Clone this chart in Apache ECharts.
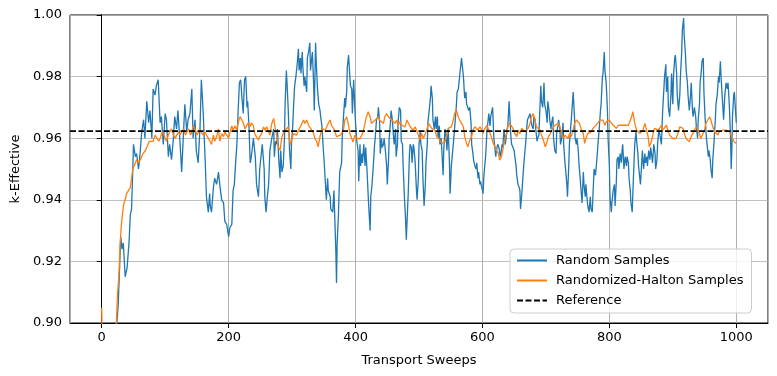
<!DOCTYPE html>
<html>
<head>
<meta charset="utf-8">
<script src="https://cdn.jsdelivr.net/npm/echarts@6.0.0/dist/echarts.min.js"></script>
<style>
  html, body { margin: 0; padding: 0; background: #fff; }
  #main { width: 777px; height: 376px; }
</style>
</head>
<body>
<div id="main"></div>
<script>
// tick labels
var sweepTicks = [0, 200, 400, 600, 800, 1000];
var refK = 0.9623;

// random samples, [sweep, k], in pieces
var randomSeg1 = [[22,0.895],[26,0.906],[30,0.928],[32,0.924],[34,0.926],[37,0.915],[40,0.918],[43,0.926],[45,0.935],[47,0.937],[49,0.950],[50,0.958],[53,0.954],[55,0.955],[58,0.950],[60,0.954],[63,0.962],[66,0.966],[68,0.960],[71,0.972],[74,0.965],[76,0.969],[79,0.960],[81,0.976],[84,0.974],[86,0.977],[89,0.979],[92,0.965],[94,0.967],[97,0.958],[100,0.968],[102,0.966],[105,0.954],[107,0.958],[110,0.953],[113,0.960],[115,0.967],[118,0.963],[120,0.969],[123,0.960],[126,0.949],[128,0.958],[131,0.971],[134,0.962],[136,0.966],[139,0.968],[142,0.976],[144,0.960],[147,0.966],[149,0.956],[152,0.952],[155,0.964],[157,0.979],[160,0.968],[163,0.953],[165,0.941],[168,0.936],[170,0.942]];
var randomSeg2 = [[171,0.938],[173,0.936],[176,0.944],[178,0.947],[181,0.945],[184,0.949],[186,0.945],[189,0.940],[192,0.939],[194,0.933],[197,0.932],[200,0.928],[202,0.931],[205,0.932],[207,0.943],[209,0.945],[211,0.952],[213,0.958],[215,0.969],[217,0.978],[219,0.979],[221,0.973],[223,0.968],[225,0.979],[227,0.980],[229,0.970],[230,0.972],[232,0.964],[234,0.952],[235,0.953],[237,0.956],[239,0.960],[242,0.954],[244,0.945],[247,0.941],[249,0.950],[252,0.956],[253,0.958],[256,0.950],[257,0.941],[259,0.936],[261,0.941],[263,0.945],[265,0.956],[268,0.960],[271,0.963],[272,0.954],[274,0.959],[276,0.958],[277,0.963],[279,0.953],[281,0.947],[282,0.956],[284,0.949],[286,0.951],[288,0.960],[289,0.971],[291,0.982],[292,0.978],[294,0.969],[296,0.956],[298,0.950],[299,0.958],[301,0.964],[302,0.969],[304,0.977],[306,0.980],[308,0.984],[310,0.989],[311,0.982],[313,0.986],[314,0.981],[316,0.988],[317,0.983],[319,0.977],[320,0.980],[323,0.975],[324,0.986],[326,0.988],[328,0.991],[329,0.982],[331,0.986],[332,0.988],[334,0.977],[335,0.969],[337,0.991],[338,0.985],[340,0.976],[342,0.971],[344,0.969],[345,0.967],[347,0.964],[349,0.957],[351,0.951],[352,0.947],[354,0.940],[356,0.947],[357,0.943],[360,0.941],[361,0.937]];
var randomSeg3 = [[364,0.936],[366,0.943],[367,0.936],[369,0.923],[370,0.913],[371,0.926],[373,0.935],[375,0.949],[376,0.950],[378,0.952],[379,0.960],[381,0.967],[383,0.973],[384,0.970],[386,0.975],[387,0.983],[389,0.987],[391,0.980],[392,0.977],[394,0.976],[395,0.968],[397,0.979],[399,0.969],[400,0.965],[402,0.959],[404,0.956],[405,0.946],[407,0.958],[408,0.951],[410,0.955],[411,0.952],[413,0.958],[415,0.951],[416,0.957],[418,0.950],[420,0.941],[421,0.937],[423,0.930],[424,0.941],[426,0.945],[428,0.951],[430,0.958],[431,0.960],[433,0.966],[435,0.967],[436,0.970],[438,0.965],[439,0.955],[441,0.960],[442,0.957],[444,0.958],[445,0.960],[447,0.956],[449,0.951],[450,0.945],[452,0.953],[453,0.960],[455,0.965],[456,0.969],[458,0.966],[460,0.960],[461,0.958],[463,0.963],[464,0.954],[466,0.958],[467,0.965],[469,0.970],[471,0.969],[472,0.959],[474,0.958],[475,0.951],[477,0.941],[479,0.933],[480,0.927],[482,0.937],[483,0.942],[485,0.955],[486,0.958],[488,0.957],[489,0.952],[491,0.958],[492,0.957],[494,0.952],[496,0.943],[497,0.940],[499,0.947],[500,0.958],[502,0.962],[503,0.958],[505,0.956],[506,0.948],[508,0.938],[510,0.945],[511,0.952],[513,0.958],[514,0.965],[516,0.969],[518,0.973],[519,0.977],[521,0.973],[522,0.966],[524,0.963],[526,0.967],[527,0.963],[529,0.967],[530,0.960],[532,0.964],[533,0.958],[535,0.960],[536,0.956],[538,0.948],[539,0.956],[541,0.963],[543,0.960],[544,0.956],[546,0.963],[548,0.952],[549,0.942]];
var randomSeg4 = [[551,0.951],[554,0.958],[556,0.963],[558,0.968],[559,0.971],[560,0.975],[562,0.976],[564,0.980],[566,0.984],[567,0.986],[569,0.982],[570,0.980],[572,0.973],[574,0.975],[575,0.971],[577,0.970],[578,0.969],[580,0.970],[582,0.965],[583,0.958],[585,0.955],[586,0.953],[588,0.951],[590,0.950],[591,0.952],[593,0.947],[594,0.949],[596,0.945],[597,0.946],[599,0.944],[601,0.942],[602,0.947],[604,0.952],[605,0.954],[607,0.962],[609,0.966],[610,0.968],[612,0.964],[613,0.967],[615,0.969],[616,0.970],[618,0.960],[620,0.956],[621,0.954],[622,0.956],[624,0.958],[626,0.957],[628,0.954],[629,0.955],[631,0.958],[632,0.957],[634,0.963],[636,0.958],[637,0.958],[639,0.963],[640,0.964],[642,0.972],[643,0.968],[645,0.960],[646,0.958],[648,0.958],[650,0.956],[651,0.954],[653,0.951],[654,0.948],[656,0.945],[658,0.944],[659,0.943],[660,0.937],[662,0.942],[663,0.945],[665,0.951],[667,0.956],[668,0.958],[670,0.964],[671,0.966],[673,0.967],[675,0.968],[676,0.966],[678,0.964],[680,0.963],[681,0.967],[683,0.966],[684,0.963],[686,0.959],[687,0.960],[689,0.961],[690,0.967],[692,0.977],[693,0.972],[695,0.970],[697,0.978],[698,0.971],[700,0.969],[702,0.965],[703,0.972],[705,0.969],[706,0.966],[708,0.963],[709,0.965],[711,0.967],[712,0.960],[714,0.956],[716,0.955],[717,0.962],[719,0.964],[720,0.966],[722,0.963],[723,0.958],[725,0.960],[727,0.965],[728,0.958],[730,0.952],[731,0.950],[733,0.945],[734,0.941],[736,0.951]];
var randomSeg5 = [[737,0.958],[740,0.966],[741,0.969],[743,0.975],[745,0.967],[746,0.960],[748,0.958],[749,0.960],[751,0.956],[752,0.952],[754,0.947],[755,0.944],[757,0.939],[759,0.949],[760,0.945],[762,0.941],[763,0.945],[765,0.940],[766,0.938],[768,0.936],[770,0.941],[771,0.937],[773,0.936],[774,0.941],[776,0.950],[778,0.948],[779,0.950],[781,0.955],[782,0.958],[784,0.963],[786,0.969],[787,0.971],[789,0.980],[790,0.981],[792,0.988],[793,0.982],[795,0.978],[797,0.969],[798,0.960],[800,0.951],[801,0.941],[803,0.936],[804,0.939],[806,0.943],[808,0.945],[809,0.938],[811,0.946],[812,0.953],[814,0.954],[815,0.950],[817,0.955],[819,0.952],[820,0.956],[821,0.958],[823,0.950],[825,0.954],[827,0.951],[828,0.954],[830,0.952],[831,0.947],[833,0.943],[834,0.939],[836,0.936],[837,0.942],[839,0.953],[840,0.958],[842,0.962],[843,0.959],[845,0.955],[846,0.951],[848,0.947],[849,0.945],[851,0.952],[852,0.956],[854,0.950],[856,0.955],[857,0.952],[859,0.954],[860,0.951],[862,0.956],[864,0.953],[865,0.957],[867,0.954],[868,0.952],[870,0.958],[872,0.955],[873,0.950],[875,0.953],[876,0.958],[878,0.963]];
var randomSeg6 = [[882,0.958],[884,0.969],[887,0.980],[889,0.984],[890,0.975],[892,0.980],[893,0.970],[895,0.967],[897,0.974],[898,0.981],[900,0.971],[901,0.980],[903,0.986],[904,0.987],[906,0.981],[907,0.974],[909,0.969],[911,0.974],[912,0.980],[914,0.988],[915,0.995],[917,0.999],[918,0.993],[920,0.987],[921,0.982],[923,0.978],[924,0.974],[926,0.969],[928,0.974],[929,0.978],[931,0.969],[932,0.967],[934,0.970],[936,0.967],[937,0.964],[939,0.960],[940,0.966],[942,0.971],[943,0.978],[945,0.982],[946,0.985],[948,0.986],[949,0.975],[951,0.966],[953,0.960],[954,0.958],[956,0.954],[957,0.956],[959,0.953],[960,0.950],[962,0.947],[963,0.953],[965,0.959],[967,0.966],[968,0.971],[970,0.974],[972,0.980],[973,0.978],[975,0.985],[976,0.980],[978,0.973],[980,0.966],[981,0.970],[982,0.974],[984,0.978],[986,0.976],[987,0.978],[989,0.971],[991,0.960],[992,0.950],[993,0.956],[994,0.967],[996,0.974],[997,0.975],[999,0.975],[1000,0.965]];

// randomized-halton samples, [sweep, k]
var haltonSeg1 = [[0,0.905],[2,0.870],[10,0.860],[18,0.875],[22,0.895],[25,0.910],[27,0.915],[29,0.926],[31,0.932],[33,0.936],[35,0.939],[37,0.940],[39,0.942],[42,0.943],[45,0.944],[47,0.947],[49,0.950],[51,0.951],[53,0.952],[55,0.953],[57,0.952],[59,0.952],[61,0.953],[63,0.954],[65,0.955],[67,0.955],[69,0.956],[71,0.957],[73,0.958],[75,0.959],[78,0.959],[81,0.959],[84,0.961],[87,0.961],[90,0.959],[92,0.960],[95,0.962],[98,0.961],[102,0.959],[105,0.961],[107,0.962],[110,0.963],[113,0.961],[116,0.960],[118,0.961],[121,0.962],[123,0.961],[126,0.962],[129,0.963],[132,0.961],[134,0.962],[137,0.963],[140,0.961],[142,0.962],[144,0.964],[147,0.963],[150,0.961],[152,0.9615],[155,0.963],[157,0.962],[160,0.961],[163,0.962],[165,0.961],[168,0.960],[171,0.960]];
var haltonSeg2 = [[173,0.958],[176,0.961],[178,0.959],[181,0.9605],[184,0.963],[186,0.959],[189,0.9615],[192,0.9605],[194,0.962],[197,0.961],[200,0.960],[203,0.9626],[205,0.964],[207,0.9626],[210,0.964],[213,0.9626],[215,0.965],[218,0.967],[220,0.9675],[223,0.965],[226,0.963],[228,0.964],[231,0.965],[234,0.9637],[236,0.965],[239,0.964],[241,0.9615],[244,0.961],[247,0.9594],[249,0.9605],[252,0.9615],[255,0.9637],[257,0.9626],[260,0.9637],[263,0.9642],[265,0.961],[268,0.9648],[271,0.9664],[273,0.9637],[276,0.9605],[278,0.9572],[281,0.9561],[284,0.9605],[286,0.9615],[289,0.9626],[292,0.9632],[294,0.9637],[297,0.9578],[299,0.9583],[302,0.9615],[305,0.9621],[307,0.961],[310,0.9626],[313,0.9637],[315,0.9642],[318,0.9659],[320,0.9648],[323,0.9659],[326,0.9642],[328,0.9637],[331,0.9626],[334,0.9615],[336,0.9599],[339,0.9588],[341,0.9572],[344,0.9605],[347,0.9632],[349,0.9637],[352,0.9626],[354,0.9632],[357,0.9648],[360,0.9659],[362,0.9642],[365,0.9645]];
var haltonSeg3 = [[367,0.9626],[368,0.962],[370,0.9605],[373,0.9599],[376,0.961],[378,0.9605],[381,0.9626],[383,0.9659],[386,0.9669],[389,0.9642],[391,0.9615],[394,0.961],[396,0.9588],[399,0.961],[402,0.9599],[404,0.9594],[407,0.9599],[410,0.961],[412,0.9621],[415,0.9626],[417,0.9669],[420,0.9686],[423,0.9669],[425,0.9648],[428,0.9642],[431,0.9659],[433,0.9664],[436,0.9669],[438,0.9659],[441,0.9664],[444,0.9648],[446,0.9669],[449,0.968],[452,0.9669],[454,0.9664],[457,0.9659],[460,0.9653],[462,0.9648],[465,0.9659],[467,0.9642],[470,0.9653],[473,0.9642],[475,0.9648],[478,0.9637],[481,0.9659],[483,0.9664],[486,0.9637],[489,0.9632],[491,0.9626],[494,0.9637],[496,0.9642],[499,0.961],[501,0.9594],[504,0.9615],[507,0.9599],[510,0.9615],[512,0.9626],[515,0.9648],[517,0.9642],[520,0.9632],[522,0.9637],[525,0.9626],[528,0.9605],[530,0.9599],[533,0.9594],[536,0.9583],[538,0.9578],[541,0.9588],[543,0.9605],[546,0.9632],[549,0.9626]];
var haltonSeg4 = [[551,0.9637],[554,0.9659],[556,0.968],[559,0.9691],[562,0.9669],[564,0.9659],[567,0.9648],[570,0.9637],[572,0.9605],[575,0.9583],[577,0.9572],[580,0.9594],[583,0.9605],[585,0.9626],[588,0.9637],[591,0.9632],[593,0.9626],[596,0.9637],[599,0.9626],[601,0.9615],[604,0.9632],[607,0.9642],[609,0.9637],[612,0.9615],[614,0.9605],[617,0.9583],[620,0.9572],[622,0.9561],[625,0.9551],[627,0.9529],[630,0.954],[633,0.9572],[635,0.9594],[638,0.9615],[640,0.9637],[643,0.9648],[646,0.9642],[648,0.9632],[651,0.9615],[654,0.9605],[656,0.9626],[659,0.9615],[662,0.9632],[664,0.9626],[667,0.9621],[670,0.9615],[672,0.9632],[675,0.9648],[677,0.9669],[680,0.968],[683,0.9659],[685,0.9637],[688,0.9642],[691,0.9626],[693,0.961],[696,0.9594],[699,0.9572],[701,0.9583],[704,0.9605],[707,0.9615],[709,0.9626],[712,0.9632],[714,0.9642],[717,0.9637],[720,0.9648],[722,0.9637],[725,0.9615],[728,0.9599],[730,0.961],[733,0.9605],[735,0.9599]];
var haltonSeg5 = [[737,0.9615],[740,0.9605],[743,0.9626],[745,0.9648],[748,0.9659],[751,0.9664],[753,0.9648],[756,0.9626],[759,0.9615],[761,0.9583],[764,0.9605],[766,0.9615],[769,0.961],[772,0.9621],[774,0.9632],[777,0.9637],[779,0.9642],[782,0.9648],[785,0.9659],[787,0.9653],[790,0.9659],[793,0.9642],[795,0.9653],[798,0.9648],[800,0.9659],[803,0.9664],[806,0.9642],[808,0.9648],[811,0.9632],[814,0.9642],[816,0.9637],[819,0.9642],[822,0.9648],[824,0.9642],[827,0.9637],[830,0.9642],[832,0.9653],[835,0.9669],[837,0.9686],[840,0.9648],[843,0.9626],[845,0.9621],[848,0.9615],[850,0.961],[853,0.9626],[856,0.9648],[858,0.9642],[861,0.9605],[863,0.9572],[866,0.9588],[869,0.9615],[871,0.9632],[874,0.9637],[877,0.9626],[879,0.9632],[882,0.9642],[884,0.9626],[887,0.9632],[890,0.9642],[892,0.9626],[895,0.961]];
var haltonSeg6 = [[898,0.961],[900,0.9599],[903,0.9605],[905,0.9599],[908,0.9615],[911,0.9637],[913,0.9642],[916,0.9632],[919,0.961],[921,0.9599],[924,0.9594],[926,0.9588],[929,0.9605],[931,0.9599],[934,0.9626],[937,0.9637],[939,0.9632],[942,0.9615],[944,0.9599],[947,0.9605],[950,0.9626],[952,0.9648],[955,0.9659],[958,0.9669],[960,0.9659],[963,0.9637],[966,0.9621],[968,0.9615],[971,0.961],[973,0.9621],[976,0.9615],[979,0.9626],[981,0.9621],[984,0.9626],[987,0.9632],[989,0.9621],[992,0.961],[994,0.9599],[997,0.9588],[1000,0.9583]];

var randomData = randomSeg1.concat(randomSeg2, randomSeg3, randomSeg4, randomSeg5, randomSeg6);
var haltonData = haltonSeg1.concat(haltonSeg2, haltonSeg3, haltonSeg4, haltonSeg5, haltonSeg6);

var font = 'DejaVu Sans';
var gridColor = '#b0b0b0';
var myChart = echarts.init(document.getElementById('main'), null, { renderer: 'canvas' });

var option = {
    animation: false,
    backgroundColor: '#fff',
    grid: {
        left: 70, top: 15, width: 698, height: 308,
        show: true, borderColor: '#000', borderWidth: 1,
        containLabel: false, outerBoundsMode: 'none'
    },
    legend: {
        data: ['Random Samples', 'Randomized-Halton Samples', 'Reference'],
        orient: 'vertical',
        left: 510, top: 249,
        itemWidth: 30, itemHeight: 14, itemGap: 7,
        padding: [5, 8, 6, 6],
        backgroundColor: 'rgba(255,255,255,0.8)',
        borderColor: '#cccccc', borderWidth: 1, borderRadius: 4,
        itemStyle: { opacity: 0 },
        textStyle: { fontFamily: font, fontSize: 13, color: '#000', padding: [0, 0, 0, 4] }
    },
    xAxis: [
        {
            // data axis, only draws the vertical grid lines
            type: 'value',
            min: -50, max: 1050, splitNumber: 5,
            position: 'bottom',
            axisLine: { show: false },
            axisTick: { show: false },
            axisLabel: { show: false },
            splitLine: { show: true, lineStyle: { color: gridColor, width: 1 } }
        },
        {
            // twin axis for the line, ticks, labels and name
            type: 'value',
            min: -50, max: 1050,
            position: 'bottom',
            name: 'Transport Sweeps',
            nameLocation: 'middle', nameGap: 31,
            nameTextStyle: { fontFamily: font, fontSize: 13, color: '#000' },
            axisLine: { show: true, lineStyle: { color: '#000', width: 1 } },
            axisTick: { show: true, length: 5, lineStyle: { color: '#000' }, customValues: sweepTicks },
            axisLabel: {
                fontFamily: font, fontSize: 13, color: '#000', margin: 8, customValues: sweepTicks,
                formatter: function (v) { return String(v); }
            },
            splitLine: { show: false }
        }
    ],
    yAxis: [
        {
            type: 'value',
            min: 0.9, max: 1.0, interval: 0.02,
            name: 'k-Effective',
            nameLocation: 'middle', nameGap: 44,
            nameTextStyle: { fontFamily: font, fontSize: 13, color: '#000' },
            axisLine: { show: true, lineStyle: { color: '#000', width: 1 } },
            axisTick: { show: true, length: 5, lineStyle: { color: '#000' } },
            axisLabel: {
                fontFamily: font, fontSize: 13, color: '#000', margin: 8,
                formatter: function (v) { return v.toFixed(2); }
            },
            splitLine: { show: true, lineStyle: { color: gridColor, width: 0.8 } }
        },
        {
            // right spine
            type: 'value',
            min: 0.9, max: 1.0, interval: 0.02,
            position: 'right',
            axisLine: { show: true, lineStyle: { color: '#000', width: 1 } },
            axisTick: { show: false },
            axisLabel: { show: false },
            splitLine: { show: false }
        }
    ],
    series: [
        {
            name: 'Random Samples',
            type: 'line',
            symbol: 'none',
            data: randomData,
            lineStyle: { color: '#1f77b4', width: 1.3 },
            itemStyle: { color: '#1f77b4' },
            z: 2
        },
        {
            name: 'Randomized-Halton Samples',
            type: 'line',
            symbol: 'none',
            data: haltonData,
            lineStyle: { color: '#ff7f0e', width: 1.3 },
            itemStyle: { color: '#ff7f0e' },
            z: 3
        },
        {
            name: 'Reference',
            type: 'line',
            symbol: 'none',
            data: [[-50, refK], [1050, refK]],
            lineStyle: { color: '#000', width: 1.6, type: [6, 2.5] },
            itemStyle: { color: '#000' },
            z: 4
        }
    ]
};

myChart.setOption(option);
</script>
</body>
</html>
